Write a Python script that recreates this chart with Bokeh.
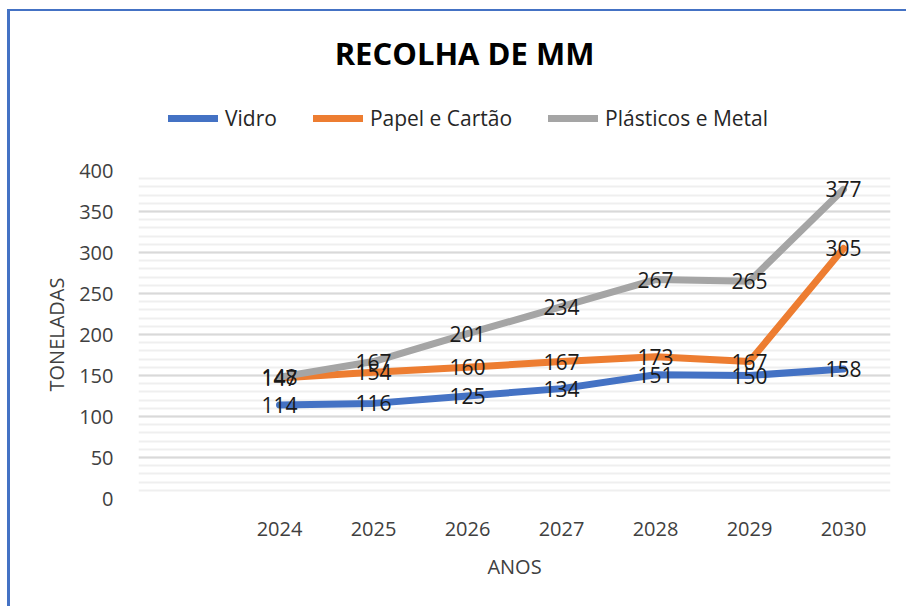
from bokeh.plotting import figure
from bokeh.layouts import column
from bokeh.models import (FactorRange, Range1d, Legend, LegendItem, Label,
                          ColumnDataSource, SingleIntervalTicker, LabelSet)
from bokeh.core.properties import value
from bokeh.embed import file_html
from bokeh.resources import INLINE

# ---- data ----
years = ["2024", "2025", "2026", "2027", "2028", "2029", "2030"]
vidro = [114, 116, 125, 134, 151, 150, 158]
papel = [147, 154, 160, 167, 173, 167, 305]
plasticos = [148, 167, 201, 234, 267, 265, 377]
series_names = ["Vidro", "Papel e Cartão", "Plásticos e Metal"]
series_values = [vidro, papel, plasticos]
colors = ["#4472C4", "#ED7D31", "#A5A5A5"]
title_text = "RECOLHA DE MM"
x_title = "ANOS"
y_title = "TONELADAS"

FONT = "Open Sans"
W = 896
H_TOP = 140
H_MAIN = 455

# ---- header figure: title + legend ----
ph = figure(width=W, height=H_TOP, x_range=Range1d(0, 1), y_range=Range1d(0, 1),
            x_axis_type=None, y_axis_type=None, output_backend="svg",
            toolbar_location=None, min_border=0)
ph.outline_line_color = None
ph.grid.visible = False
ph.background_fill_color = "white"
ph.border_fill_color = "white"

ph.add_layout(Label(x=326, y=99, x_units="screen", y_units="screen", text=title_text,
                    text_align="center", text_baseline="alphabetic", text_font=FONT,
                    text_font_size="31px", text_font_style="bold", text_color="#000000"))

# hidden copies of the series, used only as legend entries in the header
key_lines = [ph.line(x=list(range(len(vals))), y=vals, line_color=c, line_width=7,
                     line_cap="round", visible=False)
             for vals, c in zip(series_values, colors)]
legend = Legend(items=[LegendItem(label=n, renderers=[r]) for n, r in zip(series_names, key_lines)],
                orientation="horizontal", location=(30, 18),
                border_line_color=None, background_fill_alpha=0,
                inactive_fill_alpha=0,
                padding=0, margin=0, spacing=36, glyph_width=50, glyph_height=30,
                label_height=30, label_standoff=7, label_text_font=FONT,
                label_text_font_size="21px", label_text_color="#262626")
ph.add_layout(legend)

# ---- main chart ----
factors = [" "] + years
p = figure(width=W, height=H_MAIN,
           x_range=FactorRange(factors=factors, range_padding=0),
           y_range=Range1d(0, 400),
           output_backend="svg", toolbar_location=None,
           min_border_left=128, min_border_right=16,
           min_border_top=19, min_border_bottom=108)
p.outline_line_color = None
p.background_fill_color = "white"
p.border_fill_color = "white"

p.xgrid.grid_line_color = None
p.yaxis.ticker = SingleIntervalTicker(interval=50, num_minor_ticks=5)
p.ygrid.grid_line_color = "#d9d9d9"
p.ygrid.grid_line_width = 2
p.ygrid.minor_grid_line_color = "#efefef"
p.ygrid.minor_grid_line_width = 2

for ax in (p.xaxis, p.yaxis):
    ax.axis_line_color = None
    ax.major_tick_line_color = None
    ax.minor_tick_line_color = None
    ax.major_label_text_font = FONT
    ax.major_label_text_font_size = "20px"
    ax.major_label_text_color = "#404040"
    ax.axis_label_text_font = FONT
    ax.axis_label_text_font_size = "20px"
    ax.axis_label_text_font_style = "normal"
    ax.axis_label_text_color = "#404040"
p.yaxis.major_label_standoff = 19
p.xaxis.major_label_standoff = 10
p.xaxis.axis_label = x_title
p.yaxis.axis_label = y_title
p.xaxis.axis_label_standoff = 8
p.yaxis.axis_label_standoff = 6

for vals, c in zip(series_values, colors):
    p.line(x=years, y=vals, line_color=c, line_width=7,
           line_join="round", line_cap="round")

for vals in series_values:
    src = ColumnDataSource(dict(x=years, y=vals, t=[str(v) for v in vals]))
    p.add_layout(LabelSet(x="x", y="y", text="t", source=src, text_align="center",
                          text_baseline="middle", text_font=value(FONT),
                          text_font_size="21px", text_color="#1a1a1a"))

layout = column(ph, p, spacing=0)
layout.styles = {"margin-left": "7px", "margin-top": "9px",
                 "border-top": "2px solid #4472C4", "border-left": "3px solid #4472C4"}

open("out.html", "w").write(file_html(layout, INLINE))
